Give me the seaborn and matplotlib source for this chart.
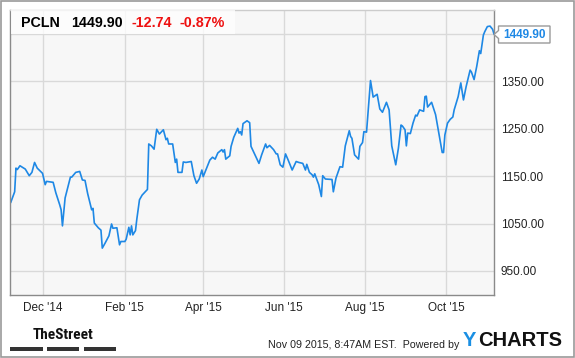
import matplotlib
matplotlib.use("Agg")
import matplotlib.pyplot as plt
import matplotlib.dates as mdates
from matplotlib import font_manager
from matplotlib.patches import Rectangle, Polygon
import pandas as pd
import seaborn as sns

# ---------------- data ----------------
ticker = "PCLN"
last_price = "1449.90"
change = "-12.74"
change_pct = "-0.87%"
base_date = "2014-12-01"
day_offsets = [-24, -21, -20, -19, -17, -13, -10, -8, -6, -4,
               0, 2, 3, 8, 10, 13, 14, 15, 17, 21,
               22, 25, 28, 30, 32, 34, 37, 38, 39, 42,
               44, 45, 47, 50, 52, 53, 56, 58, 59, 62,
               63, 65, 66, 67, 68, 70, 71, 73, 75, 79,
               80, 82, 84, 86, 88, 91, 93, 94, 95, 98,
               100, 101, 102, 105, 106, 108, 112, 114, 116, 118,
               120, 121, 124, 126, 128, 130, 132, 135, 136, 137,
               138, 141, 142, 144, 147, 148, 149, 150, 151, 154,
               156, 157, 160, 163, 165, 168, 169, 171, 174, 176,
               177, 179, 181, 183, 185, 188, 191, 193, 196, 198,
               199, 201, 203, 204, 205, 208, 210, 211, 213, 218,
               219, 221, 224, 226, 228, 231, 232, 233, 235, 238,
               239, 241, 242, 244, 247, 249, 252, 254, 256, 259,
               261, 263, 266, 268, 270, 271, 273, 274, 275, 277,
               279, 281, 282, 284, 285, 287, 288, 289, 290, 293,
               295, 296, 298, 300, 301, 302, 303, 305, 307, 309,
               310, 313, 315, 317, 319, 322, 323, 325, 327, 329,
               330, 332, 333, 335, 337, 339, 340]
prices = [1094, 1117, 1167, 1164, 1172, 1165, 1151, 1158, 1179, 1167,
          1156, 1132, 1139, 1137, 1115, 1089, 1079, 1045, 1104, 1148,
          1148, 1158, 1160, 1142, 1141, 1113, 1079, 1082, 1051, 1041,
          1036, 998, 1008, 1024, 1049, 1040, 1041, 1005, 1012, 1012,
          1017, 1042, 1026, 1045, 1026, 1035, 1059, 1100, 1110, 1122,
          1218, 1214, 1207, 1249, 1239, 1248, 1227, 1230, 1218, 1218,
          1179, 1186, 1158, 1158, 1180, 1179, 1181, 1151, 1135, 1144,
          1163, 1149, 1170, 1184, 1190, 1186, 1199, 1206, 1201, 1206,
          1186, 1193, 1213, 1232, 1251, 1241, 1244, 1237, 1261, 1267,
          1263, 1213, 1195, 1177, 1195, 1218, 1210, 1215, 1206, 1197,
          1197, 1174, 1169, 1197, 1184, 1163, 1181, 1179, 1177, 1163,
          1175, 1158, 1153, 1148, 1155, 1132, 1107, 1151, 1144, 1143,
          1117, 1146, 1170, 1169, 1214, 1246, 1234, 1230, 1195, 1186,
          1213, 1221, 1244, 1243, 1352, 1317, 1323, 1292, 1285, 1306,
          1290, 1214, 1174, 1209, 1258, 1256, 1248, 1214, 1241, 1240,
          1262, 1279, 1277, 1290, 1289, 1287, 1318, 1319, 1296, 1306,
          1289, 1280, 1248, 1216, 1200, 1200, 1237, 1262, 1270, 1275,
          1290, 1318, 1347, 1311, 1339, 1374, 1370, 1354, 1382, 1415,
          1409, 1448, 1455, 1466, 1467, 1460, 1449.90]
y_ticks = [950, 1050, 1150, 1250, 1350, 1450]
y_tick_labels = ["950.00", "1050.00", "1150.00", "1250.00", "1350.00", ""]
x_tick_months = [12, 2, 4, 6, 8, 10]
timestamp_text = "Nov 09 2015, 8:47AM EST.  Powered by"

# ---------------- style ----------------
sns.set_style("white")
plt.rcParams["font.family"] = ["Liberation Sans", "DejaVu Sans"]


def first_available(names, default):
    for n in names:
        try:
            font_manager.findfont(font_manager.FontProperties(family=n),
                                  fallback_to_default=False)
            return n
        except Exception:
            continue
    return default


narrow_family = first_available(
    ["Liberation Sans Narrow", "DejaVu Sans Condensed", "Roboto Condensed"],
    None)

W, H = 575, 358
fig = plt.figure(figsize=(W / 100, H / 100), dpi=100)
fig.patch.set_facecolor("white")


def fx(x):
    return x / W


def fy(y):
    return 1 - y / H


ax_l, ax_r, ax_t, ax_b = 10, 494, 10, 295
ax = fig.add_axes([fx(ax_l), fy(ax_b), (ax_r - ax_l) / W, (ax_b - ax_t) / H])
ax.set_facecolor("#f7f7f7")

df = pd.DataFrame({
    "date": pd.Timestamp(base_date) + pd.to_timedelta(day_offsets, unit="D"),
    "price": prices,
})
line_color = "#1e88e5"
sns.lineplot(data=df, x="date", y="price", ax=ax, color=line_color,
             linewidth=1.2, estimator=None)

base = pd.Timestamp(base_date)
ax.set_xlim(base - pd.Timedelta(days=24.5), base + pd.Timedelta(days=340))
ax.set_ylim(899, 1501)
ax.set_xlabel("")
ax.set_ylabel("")

ax.xaxis.set_major_locator(mdates.MonthLocator(bymonth=x_tick_months))
ax.xaxis.set_major_formatter(mdates.DateFormatter("%b '%y"))
ax.set_yticks(y_ticks)
ax.set_yticklabels(y_tick_labels)
ax.yaxis.tick_right()
ax.tick_params(axis="both", length=0, labelsize=8.5, colors="#222222")
ax.tick_params(axis="x", pad=5)
ax.tick_params(axis="y", pad=5)
ax.grid(True, color="#d9d9d9", linewidth=1.0)
ax.set_axisbelow(True)
for side in ["left", "right", "bottom"]:
    ax.spines[side].set_color("#8a8a8a")
    ax.spines[side].set_linewidth(1.0)
ax.spines["top"].set_color("#cccccc")
ax.spines["top"].set_linewidth(1.0)

# title box
fig.patches.append(Rectangle((fx(10.5), fy(34)), (235 - 10.5) / W, 24 / H,
                             transform=fig.transFigure, facecolor="white",
                             alpha=0.75, edgecolor="none", zorder=5))
ty = fy(23)
title_size = 10.3
fig.text(fx(21.5), ty, ticker, fontsize=title_size, fontweight="bold",
         color="black", va="center", zorder=6)
fig.text(fx(71), ty, last_price, fontsize=title_size, fontweight="bold",
         color="black", va="center", zorder=6)
fig.text(fx(131), ty, change, fontsize=title_size, fontweight="bold",
         color="#ee1111", va="center", zorder=6)
fig.text(fx(180), ty, change_pct, fontsize=title_size, fontweight="bold",
         color="#ee1111", va="center", zorder=6)

# last price tag
tag = [(494, 34.5), (498.5, 30.5), (498.5, 26), (550, 26), (550, 43),
       (498.5, 43), (498.5, 38.5)]
fig.patches.append(Polygon([(fx(x), fy(y)) for x, y in tag], closed=True,
                           transform=fig.transFigure, facecolor="white",
                           edgecolor="#9a9a9a", linewidth=1.0, zorder=5))
fig.text(fx(524.5), fy(34.5), last_price, fontsize=8.5, fontweight="bold",
         color=line_color, ha="center", va="center", zorder=6)

# footer: TheStreet logo
if narrow_family is not None:
    street_fam = [narrow_family, "Liberation Sans", "DejaVu Sans"]
    street_size = 11
else:
    street_fam = ["Liberation Sans", "DejaVu Sans"]
    street_size = 9.5
fig.text(fx(63), fy(335), "TheStreet", fontsize=street_size,
         fontweight="bold", color="#111111", ha="center", va="center",
         family=street_fam)
for x0, x1 in [(10, 43), (47, 79), (84, 116)]:
    fig.patches.append(Rectangle((fx(x0), fy(350.7)), (x1 - x0) / W, 4 / H,
                                 transform=fig.transFigure,
                                 facecolor="#333333", edgecolor="none"))

# footer text and YCHARTS logo
fig.text(fx(459), fy(345), timestamp_text, fontsize=7.7, color="#222222",
         ha="right", va="center")
fig.text(fx(463), fy(340.5), "Y", fontsize=14.5, fontweight="bold",
         color="#1a8fe3", ha="left", va="center")
fig.text(fx(478), fy(340.5), "CHARTS", fontsize=14.5, fontweight="bold",
         color="#111111", ha="left", va="center")

# outer border
fig.patches.append(Rectangle((fx(0.5), fy(357)), 573 / W, 356.5 / H,
                             transform=fig.transFigure, facecolor="none",
                             edgecolor="#9a9a9a", linewidth=1.2))

fig.savefig("out.png", dpi=100, facecolor="white")
